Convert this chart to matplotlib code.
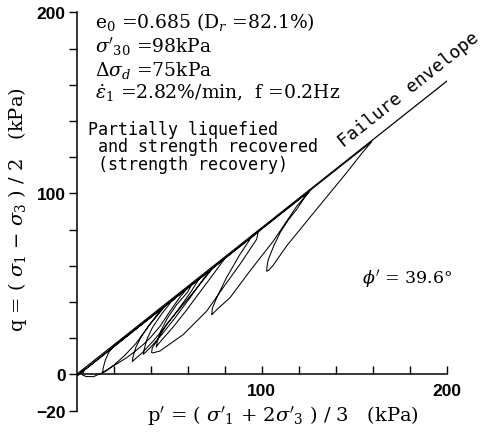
import numpy as np
import matplotlib
matplotlib.use('Agg')
import matplotlib.pyplot as plt

plt.rcParams['mathtext.fontset'] = 'dejavuserif'

# failure envelope (phi' = 39.6 deg)
env_p = [0, 200]
env_q = [0, 162]

# effective stress path (p', q) in kPa
path_p = [0.5, 46, 42, 37, 32, 26, 20, 16, 14,
          14.3, 15.5, 17.5, 20.5, 25, 30, 60,
          56, 50.5, 45, 40, 36, 31, 27, 22, 18, 13.5, 9, 5, 3,
          3.8, 4.3, 3, 1, 66,
          62, 55, 48, 41, 35, 31, 30,
          30.5, 32, 35, 39, 44, 48, 72,
          68, 61, 53, 46, 40, 37, 36,
          36.5, 38, 41, 46, 51, 55, 80,
          75, 67, 59, 52, 46, 43.5, 43,
          43.5, 45.5, 49, 54, 60, 62, 98,
          97.3, 88.3, 79.2, 70.3, 57.6, 45, 41, 40.5,
          40.8, 43.2, 48.6, 57.6, 66.6, 73.8, 79, 84, 126,
          119, 106.3, 93.7, 82.9, 76, 73.5, 73,
          73.3, 75.7, 81, 88.3, 95.5, 98, 159.5,
          154, 146, 129.7, 113.5, 106, 103.5, 102.7,
          102.9, 103.6, 106.5, 110, 114.5, 119, 123, 126]
path_q = [-0.6, 36.4, 31, 24, 17, 10.5, 5, 2, 0.8,
          3.5, 8, 12.5, 16.3, 20, 23.6, 47.6,
          43, 35, 26.5, 20.5, 16.5, 12.3, 9.2, 6, 3.5, 0.7, -1.3, -1.2, -0.3,
          1.5, 3, 1.8, -0.3, 52.6,
          46, 36, 26.5, 18, 11.5, 8, 7,
          10, 15, 21, 27, 33, 38.0, 57.3,
          52, 42, 31, 22, 15, 12, 11,
          14, 19.5, 26, 33.5, 40, 43.8, 63.9,
          57, 46, 35, 26, 19, 16, 15,
          18, 24, 31, 38.5, 45.5, 49.3, 78.6,
          74.7, 60.9, 48, 35, 22, 12.9, 11.8, 12,
          14.5, 18.4, 27.7, 38.7, 49.8, 59, 63.2, 67.3, 101.3,
          93, 73.7, 57.2, 42.4, 36, 33.5, 33,
          36.5, 42.4, 53.5, 66.4, 77.5, 78.9, 128.6,
          122, 111.6, 91.3, 71, 60, 57.3, 57,
          60, 63.6, 71, 78.4, 85.5, 91.3, 97.5, 101.5]

x_ticks = [20, 40, 60, 80, 100, 120, 140, 160, 180, 200]
x_labels = ['', '', '', '', '100', '', '', '', '', '200']
y_ticks = [-20, 0, 20, 40, 60, 80, 100, 120, 140, 160, 180, 200]
y_labels = ['\u221220', '0', '', '', '', '', '100', '', '', '', '', '200']

fig = plt.figure(figsize=(4.89, 4.35), dpi=100)
ax = fig.add_axes([0.1569, 0.054, 0.7566, 0.915])

ax.plot(env_p, env_q, color='black', lw=0.9)
ax.plot(path_p, path_q, color='black', lw=0.75)

ax.set_xlim(0, 200)
ax.set_ylim(-20, 200)
ax.spines['top'].set_visible(False)
ax.spines['right'].set_visible(False)
ax.spines['bottom'].set_position(('data', 0))
ax.spines['left'].set_linewidth(1.1)
ax.spines['bottom'].set_linewidth(1.1)

tick_font = {'family': 'Liberation Sans', 'weight': 'bold', 'size': 12.5}
ax.set_xticks(x_ticks)
ax.set_xticklabels(x_labels, fontdict=tick_font)
ax.set_yticks(y_ticks)
ax.set_yticklabels(y_labels, fontdict=tick_font)
ax.tick_params(axis='x', direction='in', length=6, width=1, pad=6)
ax.tick_params(axis='y', direction='out', length=6, width=1, pad=2)

ax.set_xlabel(r"p$'$ = ( $\sigma'_1$ + 2$\sigma'_3$ ) / 3   (kPa)", fontsize=14,
              family='DejaVu Serif')
ax.xaxis.set_label_coords(0.5576, -0.009)
ax.xaxis.label.set_va('center')
ax.set_ylabel(r"q = ( $\sigma_1$ $-$ $\sigma_3$ ) / 2   (kPa)", fontsize=14,
              family='DejaVu Serif')
ax.yaxis.set_label_coords(-0.159, 0.506)
ax.yaxis.label.set_va('center')

info = [r"e$_0$ =0.685 (D$_r$ =82.1%)",
        r"$\sigma'_{30}$ =98kPa",
        r"$\Delta\sigma_d$ =75kPa",
        r"$\dot{\varepsilon}_1$ =2.82%/min,  f =0.2Hz"]
info_q = [195.3, 181.5, 168.7, 156]
for s, yq in zip(info, info_q):
    ax.text(9.9, yq, s, fontsize=13.5, family='DejaVu Serif', va='center', ha='left')

note = ["Partially liquefied", " and strength recovered", " (strength recovery)"]
note_q = [135.5, 126.1, 116.2]
for s, yq in zip(note, note_q):
    ax.text(6.1, yq, s, fontsize=12, family='DejaVu Sans Mono', va='center', ha='left')

ax.text(154.2, 52.6, r"$\phi'$ = 39.6°", fontsize=12.5, family='DejaVu Serif',
        va='center', ha='left')
ax.text(144, 126, "Failure envelope", fontsize=13, family='DejaVu Sans Mono',
        rotation=38.4, rotation_mode='anchor', ha='left', va='baseline')

fig.savefig('out.png', dpi=100)
